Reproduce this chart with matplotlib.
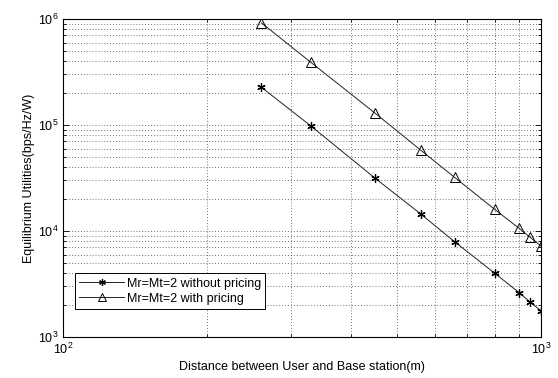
import matplotlib
matplotlib.use("Agg")
import matplotlib.pyplot as plt
from matplotlib.ticker import LogLocator, NullFormatter

plt.rcParams['font.family'] = ['Liberation Sans', 'DejaVu Sans']
plt.rcParams['mathtext.fontset'] = 'custom'
plt.rcParams['mathtext.rm'] = 'Liberation Sans'

distance = [260, 330, 450, 560, 660, 800, 900, 950, 1000]
no_pricing = [2.27e5, 9.8e4, 3.14e4, 1.45e4, 7.9e3, 4.0e3, 2.62e3, 2.13e3, 1.77e3]
with_pricing = [9.2e5, 3.9e5, 1.29e5, 5.8e4, 3.2e4, 1.6e4, 1.06e4, 8.7e3, 7.2e3]
labels = ['Mr=Mt=2 without pricing', 'Mr=Mt=2 with pricing']

fig = plt.figure(figsize=(5.58, 3.78), dpi=100)
ax = fig.add_axes([63/558, 41/378, 478/558, 318/378])

ax.plot(distance, no_pricing, color='#222222', lw=0.7, marker=(6, 2, 0),
        markersize=6, markeredgewidth=0.9, markeredgecolor='black', label=labels[0])
ax.plot(distance, with_pricing, color='#222222', lw=0.7, marker='^',
        markersize=7, markerfacecolor='none', markeredgewidth=0.7,
        markeredgecolor='black', label=labels[1])

ax.set_xscale('log')
ax.set_yscale('log')
ax.set_xlim(100, 1000)
ax.set_ylim(1e3, 1e6)

ax.xaxis.set_minor_locator(LogLocator(base=10, subs=range(2, 10)))
ax.yaxis.set_minor_locator(LogLocator(base=10, subs=range(2, 10)))
ax.xaxis.set_minor_formatter(NullFormatter())
ax.yaxis.set_minor_formatter(NullFormatter())

ax.grid(True, which='both', linestyle=(0, (1, 2.5)), color='#444444', linewidth=0.6)
ax.tick_params(which='both', direction='in', top=True, right=True, labelsize=9, width=0.6)
ax.tick_params(which='major', length=4)
ax.tick_params(which='minor', length=2)
for s in ax.spines.values():
    s.set_linewidth(0.8)

ax.set_xlabel('Distance between User and Base station(m)', fontsize=9, labelpad=3)
ax.set_ylabel('Equilibrium Utilities(bps/Hz/W)', fontsize=9, labelpad=2)

leg = ax.legend(loc='lower left', bbox_to_anchor=(0.025, 0.088), fontsize=9,
                frameon=True, fancybox=False, edgecolor='black', framealpha=1,
                handlelength=3.6, borderpad=0.35, labelspacing=0.25, handletextpad=0.2,
                borderaxespad=0.0, markerscale=0.8)
leg.get_frame().set_linewidth(0.7)

fig.savefig('out.png', dpi=100)
